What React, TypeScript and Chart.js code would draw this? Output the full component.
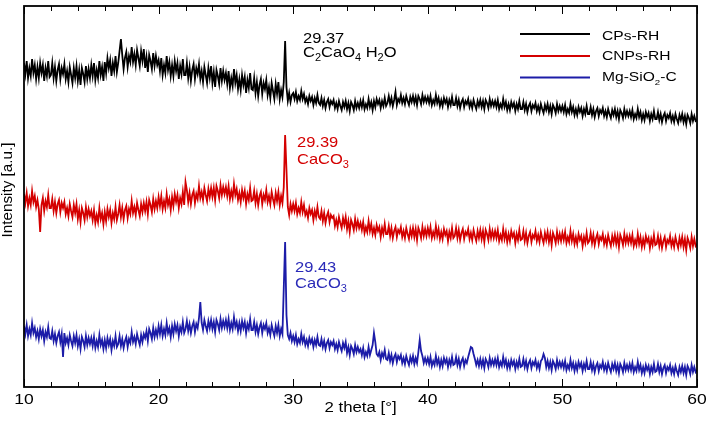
import React, { useEffect, useRef } from "react";
import { Chart, registerables } from "chart.js";

Chart.register(...registerables);

// 2θ axis: 10° to 60° in 0.1° steps
const angleStart = 10;
const angleStep = 0.1;

const cpsRH = [
  324, 313, 326, 309, 319, 311, 328, 314, 322, 308,
  320, 309, 324, 314, 322, 306, 319, 311, 326, 310,
  312, 324, 309, 320, 306, 317, 323, 308, 319, 313,
  323, 308, 316, 305, 320, 312, 304, 319, 309, 321,
  306, 317, 302, 319, 313, 305, 321, 308, 318, 309,
  322, 311, 324, 307, 317, 309, 326, 312, 320, 306,
  325, 314, 329, 319, 327, 311, 324, 316, 331, 315,
  324, 336, 348, 332, 318, 329, 335, 320, 331, 325,
  340, 325, 333, 322, 337, 329, 321, 336, 326, 338,
  319, 330, 315, 332, 326, 318, 334, 321, 331, 322,
  327, 316, 329, 312, 322, 314, 331, 317, 325, 311,
  322, 311, 326, 316, 324, 308, 321, 313, 328, 312,
  312, 324, 309, 320, 306, 317, 323, 308, 319, 313,
  323, 308, 316, 305, 320, 312, 304, 319, 309, 321,
  304, 315, 300, 317, 311, 303, 319, 306, 316, 307,
  314, 303, 316, 299, 309, 301, 318, 304, 312, 298,
  308, 297, 312, 302, 310, 294, 307, 299, 314, 298,
  297, 309, 294, 305, 291, 302, 308, 293, 304, 298,
  307, 292, 300, 289, 304, 296, 288, 303, 293, 305,
  288, 297, 290, 305, 346, 300, 286, 294, 285, 292,
  294, 288, 295, 286, 291, 287, 296, 288, 293, 285,
  289, 283, 291, 286, 290, 282, 289, 284, 292, 284,
  282, 289, 281, 287, 279, 285, 288, 280, 286, 283,
  287, 279, 284, 278, 286, 281, 277, 285, 280, 286,
  278, 284, 276, 285, 282, 277, 286, 279, 284, 279,
  286, 280, 287, 278, 283, 279, 288, 280, 285, 277,
  286, 280, 288, 283, 287, 279, 286, 281, 289, 281,
  284, 291, 283, 289, 281, 287, 295, 282, 288, 285,
  292, 284, 289, 283, 291, 286, 282, 290, 285, 291,
  284, 290, 282, 291, 288, 283, 292, 285, 290, 285,
  290, 284, 291, 282, 287, 283, 292, 284, 289, 281,
  287, 281, 289, 284, 288, 280, 287, 282, 290, 282,
  282, 289, 281, 287, 279, 285, 288, 280, 286, 283,
  288, 280, 285, 279, 287, 282, 278, 286, 281, 287,
  280, 286, 278, 287, 284, 279, 288, 281, 286, 281,
  286, 280, 287, 278, 283, 279, 288, 280, 285, 277,
  283, 277, 285, 280, 284, 276, 283, 278, 286, 278,
  278, 285, 277, 283, 275, 281, 284, 276, 282, 279,
  284, 276, 281, 275, 283, 278, 274, 282, 277, 283,
  275, 281, 273, 282, 279, 274, 283, 276, 281, 276,
  281, 275, 282, 273, 278, 274, 283, 275, 280, 272,
  278, 272, 280, 275, 279, 271, 278, 273, 281, 273,
  273, 280, 272, 278, 270, 276, 279, 271, 277, 274,
  279, 271, 276, 270, 278, 273, 269, 277, 272, 278,
  270, 276, 268, 277, 274, 269, 278, 271, 276, 271,
  276, 270, 277, 268, 273, 269, 278, 270, 275, 267,
  273, 267, 275, 270, 274, 266, 273, 268, 276, 268,
  268, 275, 267, 273, 265, 271, 274, 266, 272, 269,
  274, 266, 271, 265, 273, 268, 264, 272, 267, 273,
  265, 271, 263, 272, 269, 264, 273, 266, 271, 266,
  267,
];

const cnpsRH = [
  193, 184, 194, 181, 189, 182, 196, 185, 191, 180,
  187, 178, 155, 182, 189, 176, 186, 180, 192, 179,
  179, 188, 176, 185, 174, 183, 187, 175, 184, 179,
  185, 173, 179, 171, 183, 176, 170, 182, 174, 183,
  168, 177, 165, 179, 174, 167, 180, 170, 178, 171,
  176, 167, 177, 164, 172, 165, 179, 168, 174, 163,
  175, 166, 178, 170, 177, 164, 174, 168, 180, 167,
  173, 182, 170, 179, 168, 177, 181, 169, 178, 173,
  186, 174, 180, 172, 184, 177, 171, 183, 175, 184,
  176, 185, 173, 187, 182, 175, 188, 178, 186, 179,
  190, 181, 191, 178, 186, 179, 193, 182, 188, 177,
  190, 181, 193, 185, 192, 179, 189, 183, 195, 182,
  205, 197, 185, 194, 183, 192, 196, 184, 193, 188,
  201, 189, 195, 187, 199, 192, 186, 198, 190, 199,
  190, 199, 187, 201, 196, 189, 202, 192, 200, 193,
  200, 191, 201, 188, 196, 189, 203, 192, 198, 187,
  194, 185, 197, 189, 196, 183, 193, 187, 199, 186,
  187, 196, 184, 193, 182, 191, 195, 183, 192, 187,
  197, 185, 191, 183, 195, 188, 182, 194, 186, 195,
  182, 191, 184, 200, 252, 217, 180, 172, 183, 176,
  183, 176, 184, 173, 179, 174, 185, 175, 182, 172,
  176, 169, 179, 173, 177, 167, 176, 170, 180, 170,
  168, 176, 166, 174, 164, 171, 175, 165, 172, 169,
  171, 161, 167, 160, 170, 164, 159, 169, 162, 170,
  158, 166, 155, 167, 163, 157, 168, 159, 166, 159,
  164, 157, 165, 154, 160, 155, 166, 156, 163, 153,
  159, 152, 162, 156, 160, 150, 159, 153, 163, 153,
  153, 161, 151, 159, 149, 156, 160, 150, 157, 154,
  160, 150, 156, 149, 159, 153, 148, 158, 151, 159,
  150, 158, 147, 159, 155, 149, 160, 151, 158, 151,
  159, 152, 160, 149, 155, 150, 161, 151, 158, 148,
  155, 148, 158, 152, 156, 146, 155, 149, 159, 149,
  151, 159, 149, 157, 147, 154, 158, 148, 155, 152,
  158, 148, 154, 147, 157, 151, 146, 156, 149, 157,
  148, 156, 145, 157, 153, 147, 158, 149, 156, 149,
  156, 149, 157, 146, 152, 147, 158, 148, 155, 145,
  153, 146, 156, 150, 154, 144, 153, 147, 157, 147,
  148, 156, 146, 154, 144, 151, 155, 145, 152, 149,
  156, 146, 152, 145, 155, 149, 144, 154, 147, 155,
  145, 153, 142, 154, 150, 144, 155, 146, 153, 146,
  154, 147, 155, 144, 150, 145, 156, 146, 153, 143,
  150, 143, 153, 147, 151, 141, 150, 144, 154, 144,
  146, 154, 144, 152, 142, 149, 153, 143, 150, 147,
  153, 143, 149, 142, 152, 146, 141, 151, 144, 152,
  143, 151, 140, 152, 148, 142, 153, 144, 151, 144,
  151, 144, 152, 141, 147, 142, 153, 143, 150, 140,
  148, 141, 151, 145, 149, 139, 148, 142, 152, 142,
  143, 151, 141, 149, 139, 146, 150, 140, 147, 144,
  151, 141, 147, 140, 150, 144, 139, 149, 142, 150,
  140, 148, 137, 149, 145, 139, 150, 141, 148, 141,
  143,
];

const mgSiO2C = [
  61, 53, 62, 51, 58, 52, 64, 54, 59, 50,
  56, 48, 58, 51, 57, 46, 55, 50, 60, 49,
  48, 56, 46, 53, 44, 51, 55, 45, 53, 30,
  54, 44, 49, 42, 52, 46, 41, 51, 44, 52,
  41, 48, 38, 50, 46, 40, 51, 42, 49, 43,
  49, 41, 50, 39, 46, 40, 52, 42, 47, 38,
  47, 39, 49, 42, 48, 37, 46, 41, 51, 40,
  43, 51, 41, 48, 39, 46, 50, 40, 48, 44,
  55, 45, 50, 43, 53, 47, 42, 52, 45, 53,
  49, 56, 46, 58, 54, 48, 59, 50, 57, 51,
  61, 53, 62, 51, 58, 52, 64, 54, 59, 50,
  61, 53, 63, 56, 62, 51, 60, 55, 65, 54,
  58, 66, 56, 63, 54, 61, 65, 55, 63, 59,
  69, 85, 64, 57, 67, 61, 56, 66, 59, 67,
  58, 65, 55, 67, 63, 57, 68, 59, 66, 60,
  67, 59, 68, 57, 64, 58, 70, 60, 65, 56,
  64, 56, 66, 59, 65, 54, 63, 58, 68, 57,
  57, 65, 55, 62, 53, 60, 64, 54, 62, 58,
  64, 54, 59, 52, 62, 56, 51, 61, 54, 62,
  51, 58, 53, 99, 145, 72, 52, 48, 54, 46,
  51, 45, 52, 43, 48, 44, 53, 45, 50, 42,
  47, 41, 49, 44, 48, 40, 47, 42, 50, 42,
  41, 48, 40, 46, 38, 44, 47, 39, 45, 42,
  46, 38, 43, 37, 45, 40, 36, 44, 39, 45,
  34, 40, 32, 41, 38, 33, 42, 35, 40, 35,
  38, 32, 39, 30, 35, 31, 40, 32, 37, 42,
  54, 45, 33, 31, 35, 27, 34, 30, 37, 28,
  27, 34, 26, 32, 24, 30, 33, 25, 31, 28,
  32, 24, 29, 23, 31, 26, 22, 30, 25, 31,
  23, 29, 24, 35, 47, 36, 31, 24, 29, 24,
  29, 23, 30, 21, 26, 22, 31, 23, 28, 20,
  27, 21, 29, 24, 28, 20, 27, 22, 30, 22,
  23, 30, 22, 28, 20, 26, 29, 21, 27, 24,
  30, 35, 40, 39, 33, 28, 22, 27, 21, 28,
  21, 27, 19, 28, 25, 20, 29, 22, 27, 22,
  28, 22, 29, 20, 25, 21, 30, 22, 27, 19,
  25, 19, 27, 22, 26, 18, 25, 20, 28, 20,
  21, 28, 20, 26, 18, 24, 27, 19, 25, 22,
  27, 19, 24, 18, 26, 28, 33, 29, 20, 26,
  19, 25, 17, 26, 23, 18, 27, 20, 25, 20,
  25, 19, 26, 17, 22, 18, 27, 19, 24, 16,
  23, 17, 25, 20, 24, 16, 23, 18, 26, 18,
  18, 25, 17, 23, 15, 21, 24, 16, 22, 19,
  25, 17, 22, 16, 24, 19, 15, 23, 18, 24,
  16, 22, 14, 23, 20, 15, 24, 17, 22, 17,
  23, 17, 24, 15, 20, 16, 25, 17, 22, 14,
  20, 14, 22, 17, 21, 13, 20, 15, 23, 15,
  16, 23, 15, 21, 13, 19, 22, 14, 20, 17,
  22, 14, 19, 13, 21, 16, 12, 20, 15, 21,
  14, 20, 12, 21, 18, 13, 22, 15, 20, 15,
  17,
];

const seriesNames = ["CPs-RH", "CNPs-RH", "Mg-SiO₂-C"];
const seriesColors = ["#000000", "#d40000", "#1c1ca8"];
const xTickValues = [10, 20, 30, 40, 50, 60];
const xTitle = "2 theta [°]";
const yTitle = "Intensity [a.u.]";

type Part = { t: string; sub?: boolean };
const peakLabels: { x: number; y: number; dy: number; color: string; lines: Part[][] }[] = [
  { x: 303, y: 43, dy: 14, color: "#000000", lines: [[{ t: "29.37" }], [{ t: "C" }, { t: "2", sub: true }, { t: "CaO" }, { t: "4", sub: true }, { t: " H" }, { t: "2", sub: true }, { t: "O" }]] },
  { x: 297, y: 147, dy: 16.5, color: "#d40000", lines: [[{ t: "29.39" }], [{ t: "CaCO" }, { t: "3", sub: true }]] },
  { x: 295, y: 272, dy: 15.5, color: "#2a2ab8", lines: [[{ t: "29.43" }], [{ t: "CaCO" }, { t: "3", sub: true }]] },
];
const legendParts: Part[][] = [
  [{ t: "CPs-RH" }],
  [{ t: "CNPs-RH" }],
  [{ t: "Mg-SiO" }, { t: "2", sub: true }, { t: "-C" }],
];

const FONT = "'Liberation Sans', Arial, sans-serif";

function toPoints(vals: number[]) {
  return vals.map((v, i) => ({ x: +(angleStart + i * angleStep).toFixed(2), y: v }));
}

function partsWidth(ctx: CanvasRenderingContext2D, parts: Part[], size: number) {
  let w = 0;
  for (const p of parts) {
    ctx.font = `${p.sub ? Math.round(size * 0.65) : size}px ${FONT}`;
    w += ctx.measureText(p.t).width;
  }
  return w;
}

// draws text with alphabetic baseline at (x, y), stretched horizontally by sx
function drawParts(ctx: CanvasRenderingContext2D, parts: Part[], x: number, y: number, size: number, sx: number, align: "left" | "center" = "left") {
  ctx.save();
  ctx.textBaseline = "alphabetic";
  ctx.textAlign = "left";
  const w = partsWidth(ctx, parts, size) * sx;
  ctx.translate(align === "center" ? x - w / 2 : x, y);
  ctx.scale(sx, 1);
  let cx = 0;
  for (const p of parts) {
    if (p.sub) {
      ctx.font = `${Math.round(size * 0.65)}px ${FONT}`;
      ctx.fillText(p.t, cx, size * 0.28);
    } else {
      ctx.font = `${size}px ${FONT}`;
      ctx.fillText(p.t, cx, 0);
    }
    cx += ctx.measureText(p.t).width;
  }
  ctx.restore();
}

const decorPlugin = {
  id: "decor",
  afterDraw(chart: any) {
    const ctx: CanvasRenderingContext2D = chart.ctx;
    const { left, right, top, bottom } = chart.chartArea;
    const xs = chart.scales.x;
    ctx.save();
    // frame
    ctx.strokeStyle = "#000";
    ctx.lineWidth = 1.8;
    ctx.strokeRect(left, top, right - left, bottom - top);
    // inward ticks top & bottom
    ctx.lineWidth = 1;
    for (let v = 10; v <= 60; v += 2) {
      const px = Math.round(xs.getPixelForValue(v)) + 0.5;
      const len = v % 10 === 0 ? 8 : 5;
      ctx.beginPath();
      ctx.moveTo(px, bottom);
      ctx.lineTo(px, bottom - len);
      ctx.moveTo(px, top);
      ctx.lineTo(px, top + len);
      ctx.stroke();
    }
    // tick labels and axis titles
    ctx.fillStyle = "#000";
    xTickValues.forEach((v) => {
      drawParts(ctx, [{ t: String(v) }], xs.getPixelForValue(v), 404, 14, 1.25, "center");
    });
    drawParts(ctx, [{ t: xTitle }], (left + right) / 2, 411.5, 14, 1.2, "center");
    ctx.save();
    ctx.translate(12, 190);
    ctx.rotate(-Math.PI / 2);
    drawParts(ctx, [{ t: yTitle }], 0, 0, 14, 1.09, "center");
    ctx.restore();
    // legend
    const lineY = [34, 56, 77.5];
    const textY = [39.6, 60.3, 81.3];
    legendParts.forEach((parts, i) => {
      ctx.strokeStyle = seriesColors[i];
      ctx.lineWidth = 2;
      ctx.beginPath();
      ctx.moveTo(520, lineY[i]);
      ctx.lineTo(590, lineY[i]);
      ctx.stroke();
      ctx.fillStyle = "#000";
      drawParts(ctx, parts, 602, textY[i], 13, 1.2);
    });
    // peak labels
    for (const lab of peakLabels) {
      ctx.fillStyle = lab.color;
      lab.lines.forEach((ln, j) => drawParts(ctx, ln, lab.x, lab.y + j * lab.dy, 15, 1.1));
    }
    ctx.restore();
  },
};

export default function App() {
  const ref = useRef<HTMLCanvasElement>(null);
  useEffect(() => {
    document.body.style.margin = "0";
    const chart = new Chart(ref.current!, {
      type: "line",
      data: {
        datasets: [cpsRH, cnpsRH, mgSiO2C].map((vals, i) => ({
          label: seriesNames[i],
          data: toPoints(vals),
          borderColor: seriesColors[i],
          borderWidth: 1.8,
          pointRadius: 0,
          tension: 0,
          fill: false,
        })),
      },
      options: {
        animation: false,
        responsive: false,
        layout: { padding: { top: 6, right: 12, left: 0, bottom: 0 } },
        plugins: { legend: { display: false }, tooltip: { enabled: false } },
        scales: {
          x: {
            type: "linear",
            min: 10,
            max: 60,
            afterFit: (s: any) => { s.height = 37; },
            grid: { display: false, drawTicks: false },
            border: { display: false },
            ticks: { display: false },
            title: { display: false, text: xTitle },
          },
          y: {
            min: 0,
            max: 381,
            afterFit: (s: any) => { s.width = 24; },
            grid: { display: false, drawTicks: false },
            border: { display: false },
            ticks: { display: false },
            title: { display: false, text: yTitle },
          },
        },
      },
      plugins: [decorPlugin],
    });
    return () => chart.destroy();
  }, []);
  return (
    <div style={{ width: 709, height: 424, background: "#fff" }}>
      <canvas ref={ref} width={709} height={424} />
    </div>
  );
}
